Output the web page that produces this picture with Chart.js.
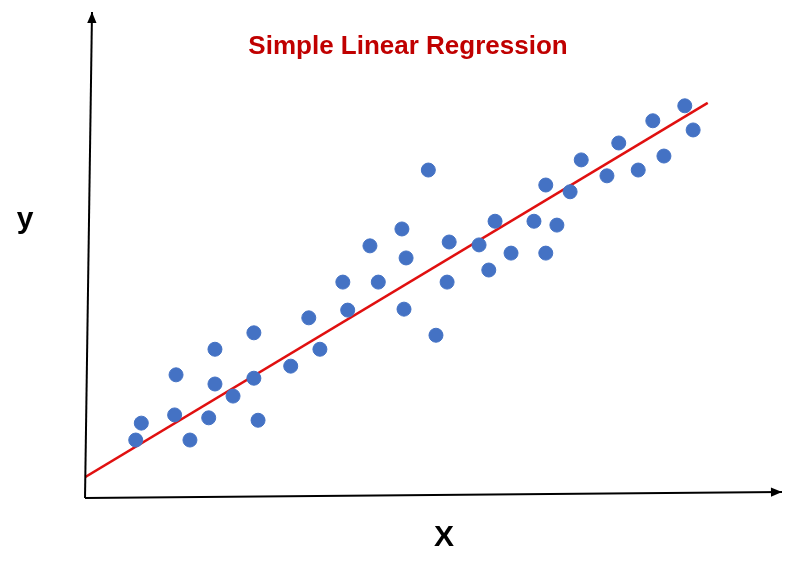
<!DOCTYPE html>
<html><head><meta charset="utf-8">
<script src="https://cdn.jsdelivr.net/npm/chart.js@4"></script>
<style>html,body{margin:0;background:#fff}#w{width:800px;height:562px}</style>
</head><body><div id="w"><canvas id="c"></canvas></div>
<script>
const xs=[7.3,8.1,12.9,13.1,15.1,17.8,18.7,18.7,21.3,24.3,24.3,24.9,29.6,32.2,33.8,37.1,37.8,41.0,42.2,45.6,46.2,45.9,49.4,50.5,52.1,52.4,56.7,58.1,59.0,61.3,64.6,66.3,66.3,67.9,69.8,71.4,75.1,76.8,79.6,81.7,83.3,86.3,87.5];
const ys=[12.0,15.5,17.2,25.5,12.0,16.6,30.8,23.6,21.1,24.8,34.2,16.1,27.3,37.3,30.8,44.7,38.9,52.2,44.7,55.7,49.7,39.1,67.9,33.7,44.7,53.0,52.4,47.2,57.3,50.7,57.3,64.8,50.7,56.5,63.4,70.0,66.7,73.5,67.9,78.1,70.8,81.2,76.2];
const lineX=[0,89.6];
const lineY=[4.3,81.8];
const titleText="Simple Linear Regression", xLabel="X", yLabel="y";
const deco={id:'deco',afterDraw(ch){const c=ch.ctx,a=ch.chartArea;c.save();c.strokeStyle='#000';c.fillStyle='#000';c.lineWidth=2;
function arrow(x1,y1,x2,y2){c.beginPath();c.moveTo(x1,y1);c.lineTo(x2,y2);c.stroke();const ang=Math.atan2(y2-y1,x2-x1),L=12;c.beginPath();c.moveTo(x2,y2);c.lineTo(x2-L*Math.cos(ang-0.4),y2-L*Math.sin(ang-0.4));c.lineTo(x2-L*Math.cos(ang+0.4),y2-L*Math.sin(ang+0.4));c.closePath();c.fill();}
arrow(a.left,a.bottom,a.left+7,12);arrow(a.left,a.bottom,782,492);
c.font='bold 26px Liberation Sans, Arial';c.textAlign='center';c.textBaseline='middle';c.fillStyle='#c00000';c.fillText(titleText,408,47);
c.fillStyle='#000';c.font='bold 30px Liberation Sans, Arial';c.fillText(xLabel,444,538);c.fillText(yLabel,25,220);c.restore();}};
new Chart(document.getElementById('c'),{type:'scatter',data:{datasets:[
{data:xs.map((x,i)=>({x,y:ys[i]})),backgroundColor:'#4472C4',borderColor:'#4472C4',pointRadius:7,pointHoverRadius:7},
{type:'line',data:lineX.map((x,i)=>({x,y:lineY[i]})),borderColor:'#e01010',borderWidth:2.5,pointRadius:0,fill:false}]},
options:{responsive:true,maintainAspectRatio:false,animation:false,layout:{padding:{left:85,right:20,top:15,bottom:64}},
plugins:{legend:{display:false},tooltip:{enabled:false}},
scales:{x:{type:'linear',min:0,max:100,display:false},y:{min:0,max:100,display:false}}},plugins:[deco]});
</script></body></html>
